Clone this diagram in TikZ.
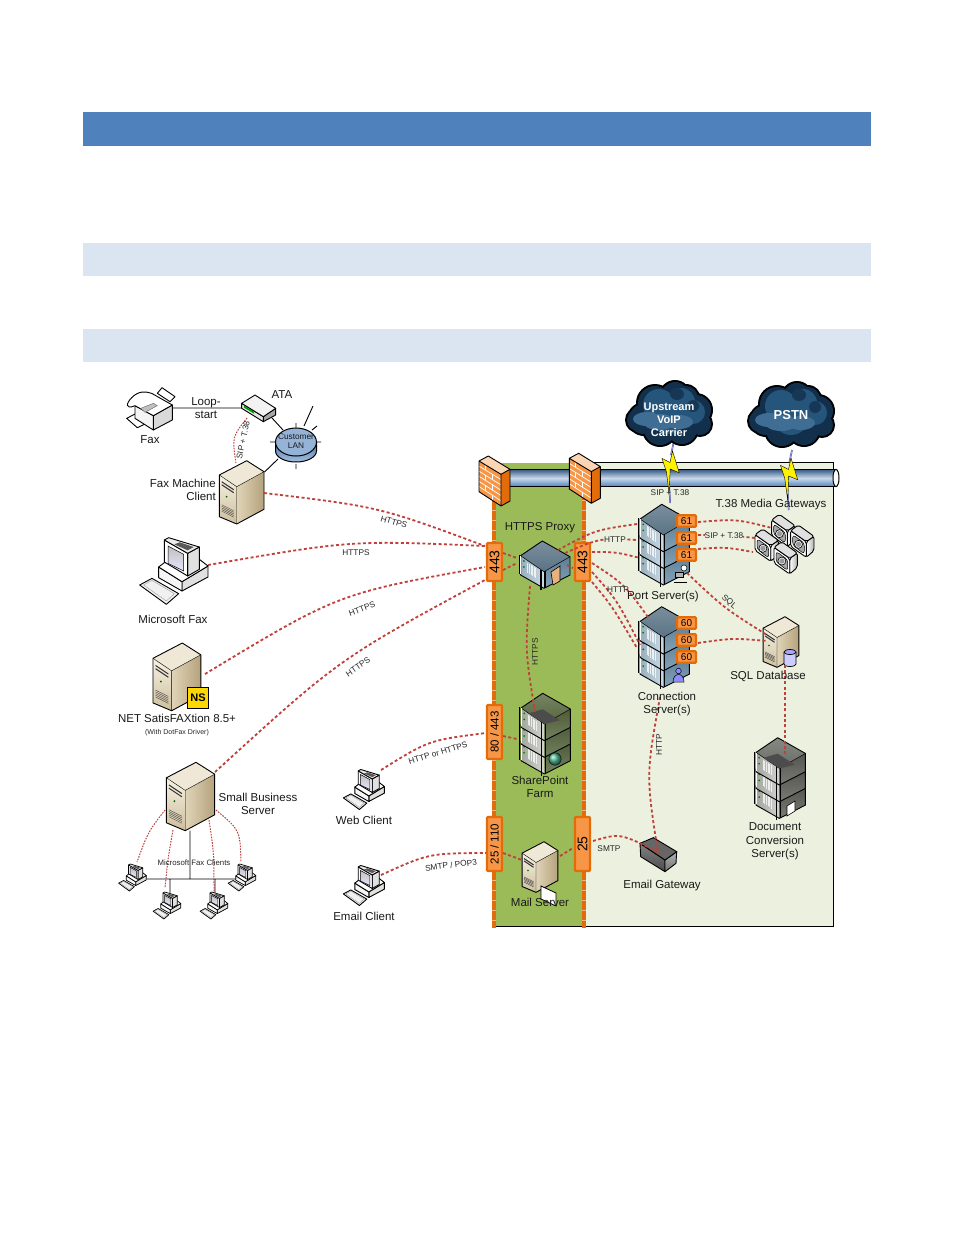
\documentclass[tikz,border=0pt]{standalone}
\usepackage{fontspec}
\setmainfont{Liberation Sans}
\usetikzlibrary{calc}
\definecolor{hdr}{HTML}{4F81BD}
\definecolor{sub}{HTML}{DBE5F1}
\definecolor{dmz}{HTML}{9BBB59}
\definecolor{lan}{HTML}{EBF1DE}
\definecolor{orD}{HTML}{E36C0A}
\definecolor{orL}{HTML}{F79646}
\definecolor{lnk}{HTML}{C0403A}
\definecolor{cloudD}{HTML}{12304C}
\definecolor{cloudM}{HTML}{26557C}
\definecolor{cloudL}{HTML}{4F88B8}
\definecolor{bluTop}{HTML}{5A7385}
\definecolor{bluFront}{HTML}{A9C2D3}
\definecolor{bluSide}{HTML}{6F94AE}
\definecolor{olvTop}{HTML}{56653D}
\definecolor{olvFront}{HTML}{B5B8AE}
\definecolor{olvSide}{HTML}{5C6B42}
\definecolor{gryTop}{HTML}{696B64}
\definecolor{gryFront}{HTML}{B5B7B0}
\definecolor{grySide}{HTML}{62645C}
\definecolor{tanA}{HTML}{F7F2E4}
\definecolor{tanB}{HTML}{CDBE9C}
\definecolor{tanC}{HTML}{E0D4B8}
\definecolor{tanD}{HTML}{B5A27C}
\definecolor{tanE}{HTML}{EFE8D6}
\tikzset{
 lbl/.style={font=\fontsize{11.5}{13.4}\selectfont,inner sep=0pt,align=center,text=black!90,yshift=-1.3pt},
 sm/.style={font=\fontsize{8.3}{10}\selectfont,inner sep=0pt,text=black!85},
 link/.style={draw=lnk,line width=1.8pt,dash pattern=on 3pt off 2.4pt},
 thinlink/.style={draw=lnk,line width=1pt,dash pattern=on 1.6pt off 1.2pt},
 wire/.style={draw=black,line width=.9pt},
 portbox/.style={draw=orD,fill=orL,line width=2.4pt,rounded corners=1pt,inner sep=0pt,minimum height=15pt,font=\fontsize{14}{16}\selectfont,rotate=90},
 tagbox/.style={draw=orD,fill=orL,line width=2.4pt,rounded corners=1pt,inner sep=0pt,minimum width=19pt,minimum height=11.5pt,font=\fontsize{10}{12}\selectfont},
 edge/.style={draw=black,line width=.9pt,line join=round},
 pics/tower/.style={code={
  \shade[top color=tanA,bottom color=tanB] (-27.4,14.3)--(-10,26)--(-10,63.3)--(-27.4,56)--cycle;
  \shade[left color=tanC,right color=tanD] (-10,26)--(17.3,11)--(17.3,48.6)--(-10,63.3)--cycle;
  \fill[tanE] (-27.4,14.3)--(0,0)--(17.3,11)--(-10,26)--cycle;
  \draw[edge] (-27.4,14.3)--(0,0)--(17.3,11)--(17.3,48.6)--(-10,63.3)--(-27.4,56)--cycle;
  \draw[black,line width=.4pt] (-27.4,14.3)--(-10,26)--(17.3,11) (-10,26)--(-10,63.3);
  \draw[black!80,line width=1pt] (-25,21)--(-13,29) (-25,24)--(-13,32);
  \fill[green!40!black] (-20,36) circle (1pt);
  \foreach \k in {0,1.6,3.2,4.8,6.4}{\draw[black!70,line width=.4pt] (-25,{44+\k})--(-13,{50+\k});}
 }},
 pics/pc/.style={code={
  \begin{scope}[shift={(-221,-590)}]
  \draw[edge,fill=black!6] (118,632)--(155,612)--(235,658)--(198,690)--cycle;
  \draw[black!45,line width=.3pt] (130,632)--(155,618)--(222,658)--(198,680)--cycle;
  \draw[edge,fill=black!12] (245,622)--(323,575)--(323,608)--(245,650)--cycle;
  \draw[edge,fill=black!4] (175,578)--(245,622)--(245,650)--(175,610)--cycle;
  \draw[edge,fill=white] (175,578)--(192,565)--(297,555)--(323,575)--(245,622)--cycle;
  \draw[edge,fill=black!12] (262,537)--(297,518)--(297,585)--(262,605)--cycle;
  \draw[edge,fill=white] (192,497)--(262,537)--(262,605)--(192,563)--cycle;
  \draw[edge,fill=black!8] (192,497)--(205,490)--(297,518)--(262,537)--cycle;
  \fill[black!65] (238,504)--(280,518)--(262,528)--(222,510)--cycle;
  \shade[top color=black!25,bottom color=blue!10!white,draw=black,line width=.5pt] (203,515)--(250,540)--(250,590)--(203,567)--cycle;
  \end{scope}
 }},
 pics/unit/.style n args={3}{code={
  \shade[left color=#2!90!black,right color=#2!60!white] (-21.7,14.7)--(1.7,30.7)--(1.7,47.3)--(-21.7,34)--cycle;
  \shade[top color=#3!85!black,bottom color=#3!85!white] (1.7,30.7)--(27.7,15.7)--(27.7,34)--(1.7,47.3)--cycle;
  \shade[top color=#1!80!white,bottom color=#1] (-21.7,14.7)--(0,0)--(27.7,15.7)--(1.7,30.7)--cycle;
  \draw[edge] (-21.7,14.7)--(0,0)--(27.7,15.7)--(27.7,34)--(1.7,47.3)--(-21.7,34)--cycle;
  \draw[black,line width=.5pt] (-21.7,14.7)--(1.7,30.7)--(27.7,15.7);
  \foreach \d in {7,8.6,10.2,11.8,13.4,15}{\draw[white,opacity=.75,line width=.6pt] ({-21.7+\d},{14.7+.68*\d+2.5})--++(0,10);}
  \fill[green!50!black] (-18.5,20) circle (1pt) (-18.5,26) circle (1pt);
  \draw[black,line width=1.3pt] (-23,14)--(-23,33);
  \draw[white,line width=.6pt] (-21.9,15)--(-21.9,33);
  \draw[black,line width=1.3pt] (-1.3,28.5)--(-1.3,49) (2.6,30)--(2.6,47);
 }},
 pics/rack/.style n args={3}{code={
  \foreach \k in {2,1,0}{\pic at (0,{\k*16.7}) {unit={#1}{#2}{#3}};}
 }},
 pics/speaker/.style={code={
  \shade[edge,left color=white,right color=black!30,rounded corners=2pt] (12,2)--(35,-14)--(35,29)--(12,49)--cycle;
  \draw[edge,fill=white,rounded corners=2pt] (-35,-31)--(12,2)--(12,49)--(-35,16)--cycle;
  \draw[edge,fill=black!12,rounded corners=2pt] (-35,-31)--(-12,-48)--(35,-14)--(12,2)--cycle;
  \draw[black,line width=.5pt,fill=black!35,rounded corners=3pt] (-29,-19)--(6,6)--(6,39)--(-29,12)--cycle;
  \draw[black,line width=.6pt,fill=black!5] (-11.5,10) circle (12);
  \fill[black!40] (-11.5,10) circle (8);
 }},
 pics/firewall/.style={code={
  \fill[orL] (0,0)--(22,13.3)--(22,45)--(0,30.7)--cycle;
  \foreach \i in {1,...,5}{\draw[white,line width=.7pt] (0,{\i*5.1})--(22,{13.3+\i*5.3});}
  \foreach \i/\a in {0/6,1/13,2/6,3/13,4/6,5/13}{\draw[white,line width=.7pt] (\a,{\a*.6+\i*5.2})--(\a,{\a*.6+(\i+1)*5.2});}
  \fill[orD] (22,13.3)--(31,8.3)--(31,40)--(22,45)--cycle;
  \fill[orL!40!white] (0,0)--(9.3,-5)--(31,8.3)--(22,13.3)--cycle;
  \draw[edge] (0,0)--(9.3,-5)--(31,8.3)--(31,40)--(22,45)--(0,30.7)--cycle (0,0)--(22,13.3)--(31,8.3) (22,13.3)--(22,45);
 }},
 pics/cloud/.style={code={
  \fill[black] (-25,5) circle (17pt) (-14,-11) circle (19pt) (6,-18) circle (16pt) (17,-16) circle (14pt) (27,-4) circle (17pt) (31,10) circle (13pt) (13,15) circle (17pt) (-9,15) circle (18pt) (-31,6) circle (13pt) (0,0) circle (24pt);
  \fill[cloudD] (-25,5) circle (15pt) (-14,-11) circle (17pt) (6,-18) circle (14pt) (17,-16) circle (12pt) (27,-4) circle (15pt) (31,10) circle (11pt) (13,15) circle (15pt) (-9,15) circle (16pt) (-31,6) circle (11pt) (0,0) circle (22pt);
  \fill[cloudM] (-10,-9) circle (16pt) (12,-12) circle (14pt) (24,-2) circle (12pt) (0,2) circle (18pt);
  \fill[cloudL!80!black] (-22,5) ellipse (14pt and 7pt) (-10,8) ellipse (16pt and 8pt) (10,8) ellipse (14pt and 7pt);
  \fill[cloudD!80!cloudM] (8,-20) ellipse (7pt and 6pt) (24,-8) ellipse (6pt and 6pt);
 }},
 pics/bolt/.style={code={
  \draw[blue!40!black!70,line width=1.6pt] (0,0)--(-2.5,12) (-4.5,40)--(-3.3,60);
  \draw[white!70!blue,line width=.6pt] (0,0)--(-2.5,12) (-4.5,40)--(-3.3,60);
  \fill[yellow,draw=black,line width=.4pt,line join=round] (-11.6,15.3)--(-3.5,19.5)--(-1,8)--(5.7,29.7)--(-3.3,26)--(-4.3,50)--(-7.3,28)--cycle;
 }}
}
\begin{document}
\begin{tikzpicture}[x=1pt,y=-1pt]
\useasboundingbox (0,0) rectangle (954,1235);
\fill[white] (0,0) rectangle (954,1235);
% header bars
\fill[hdr] (83,112) rectangle (871,146);
\fill[sub] (83,243) rectangle (871,276);
\fill[sub] (83,329) rectangle (871,362);
% zones
\draw[black,line width=1pt,fill=lan] (584,462.5) rectangle (833,926.5);
\fill[dmz] (494,463) rectangle (584,926.5);
\draw[black,line width=1pt] (494,926.5)--(584,926.5);
\foreach \x in {494,584}{
 \draw[orD,line width=4pt] (\x,480)--(\x,928);
 \draw[orL!70!white,line width=4pt,dash pattern=on 1.4pt off 8.6pt] (\x,480)--(\x,928);
}
% pipe
\shade[top color=black!30!hdr,bottom color=hdr,middle color=hdr!30!white] (505,469.5) rectangle (836,486.7);
\draw[black,line width=.9pt] (505,469.5)--(836,469.5) (505,486.7)--(836,486.7);
\draw[black,line width=1pt,fill=white] (836,478) ellipse (3pt and 8.6pt);
\pic (fw1) at (479,461) {firewall};
\pic (fw2) at (569.3,458.3) {firewall};
% clouds and bolts
\pic (bolt1) at (673.5,443) {bolt};
\pic (bolt2) at (792,450) {bolt};
\pic (cl1) at (669,414) {cloud};
\pic (cl2) at (791,415) {cloud};
% devices left
\begin{scope}[shift={(100,375)},scale=1/3]
 % fax
 \draw[edge,fill=white] (80,130)--(115,112)--(150,140)--(112,158)--cycle;
 \draw[edge,fill=white] (172,55)--(186,38)--(225,65)--(210,80)--cycle;
 \draw[edge,fill=black!15] (160,122)--(217,90)--(217,135)--(160,165)--cycle;
 \draw[edge,fill=black!4] (105,92)--(160,122)--(160,165)--(105,130)--cycle;
 \draw[edge,fill=white] (105,92) .. controls (75,105) and (78,85) .. (95,68) .. controls (115,48) and (135,48) .. (155,55) -- (217,90) -- (160,122) -- cycle;
 \draw[black!60,fill=black!25,line width=.4pt] (122,100)--(160,85)--(172,92)--(135,112)--cycle;
 % ATA
 \draw[edge,fill=black!35] (490,125)--(527,100)--(527,120)--(490,140)--cycle;
 \draw[edge,fill=black!10] (425,85)--(490,125)--(490,140)--(425,100)--cycle;
 \draw[edge,fill=black!5] (425,85)--(465,60)--(527,100)--(490,125)--cycle;
 \fill[green!60!black] (432,92)--(462,110)--(462,116)--(432,98)--cycle;
\end{scope}
% LAN cylinder
\coordinate (lanC) at (296,436);
\draw[wire] (296,423)--(296,428) (270,442)--(275,442) (316,442)--(321,442) (296,464)--(296,469) (304,426)--(313,406) (312,430)--(317,426);
\shade[top color=hdr!90!black,bottom color=hdr!50!white,draw=black,line width=1pt] (275.5,442)--(275.5,451) arc[start angle=180,end angle=360,x radius=20.5pt,y radius=11pt] -- (316.5,442);
\draw[black,line width=1pt,fill=hdr!60!white] (296,442) ellipse (20.5pt and 14pt);
\pic (fmcT) at (246.7,460.7) {tower};
\pic[scale=1.07] (netT) at (182.3,643) {tower};
\pic[scale=1.08] (sbsT) at (196,762.3) {tower};
\pic[scale=.8] (sqlT) at (785,616.7) {tower};
\pic[scale=.8] (mailT) at (544,841.7) {tower};
\pic[scale=1/3] (msPC) at (174,571) {pc};
\pic[scale=.2] (webPC) at (364,789.5) {pc};
\pic[scale=.2] (emPC) at (364,885.5) {pc};
\begin{scope}[edge/.append style={line width=.7pt}]
\pic[scale=.135] (c1) at (132.5,877.5) {pc};
\pic[scale=.135] (c2) at (167,905.5) {pc};
\pic[scale=.135] (c3) at (214,905.5) {pc};
\pic[scale=.135] (c4) at (242,877.5) {pc};
\end{scope}
% NS badge
\node[draw=black,line width=1pt,fill=yellow!75!orange,minimum size=21pt,inner sep=0pt,font=\bfseries\fontsize{11}{12}\selectfont] (ns) at (198,698) {NS};
% wires
\coordinate (faxR) at (172,408); \coordinate (ataL) at (241,408);
\coordinate (ataB) at (272,418); \coordinate (lanTL) at (283,430);
\coordinate (lanBL) at (278,459); \coordinate (fmcR) at (264.5,472);
\coordinate (sbsB) at (190,830.5); \coordinate (trunk) at (190,879);
\coordinate (busL) at (147,879); \coordinate (busR) at (236,879);
\coordinate (dropA) at (170,879); \coordinate (dropB) at (170,893);
\coordinate (dropC) at (215,879); \coordinate (dropD) at (215,893);
\draw[wire] (faxR)--(ataL) (ataB)--(lanTL) (lanBL)--(fmcR) (sbsB)--(trunk) (busL)--(busR) (dropA)--(dropB) (dropC)--(dropD);
% racks
\pic (port) at (661.7,504.3) {rack={bluTop}{bluFront}{bluSide}};
\pic (conn) at (661.7,606.7) {rack={bluTop}{bluFront}{bluSide}};
\pic (share) at (542.7,693.3) {rack={olvTop}{olvFront}{olvSide}};
\fill[black!70] (528.7,713.3)--(542.7,709.3)--(559.7,720.3)--(544.7,724)--cycle;
\pic (docs) at (777.7,737.7) {rack={gryTop}{gryFront}{grySide}};
\fill[black!70] (763.7,757.7)--(777.7,753.7)--(794.7,764.7)--(779.7,768.4)--cycle;
\pic (proxy) at (542.3,541) {unit={bluTop}{bluFront}{bluSide}};
\draw[black,line width=.6pt,fill=orange!35!brown!60!white] (551,572)--(560,566)--(560,581)--(553,585)--cycle;
\draw[black,line width=.6pt,fill=white] (787,806)--(795,801)--(795,811)--(787,816)--cycle;
% gateways
\pic[scale=1/3] (g1) at (783.3,530.3) {speaker};
\pic[scale=1/3] (g2) at (802.3,541) {speaker};
\pic[scale=1/3] (g3) at (766.7,545) {speaker};
\pic[scale=1/3] (g4) at (785.7,557.7) {speaker};
% email gateway
\begin{scope}[shift={(470,670)},scale=1/3]
 \shade[edge,top color=black!50,bottom color=black!70] (510,520)--(585,570)--(585,605)--(512,560)--cycle;
 \shade[edge,top color=black!30,bottom color=black!55] (585,570)--(620,545)--(618,580)--(585,605)--cycle;
 \fill[black!60,draw=black,line width=.9pt] (510,520)--(550,503)--(620,545)--(585,570)--cycle;
\end{scope}
% badges
\shade[ball color=blue!40!green!70!white,draw=black,line width=.4pt] (555,759) circle (6.2pt);
\draw[black,line width=.5pt,fill=white] (684,568) circle (3pt);
\draw[black,line width=.5pt,fill=black!30] (675,572) rectangle (683,577);
\draw[black,line width=.8pt] (674,582)--(687,582);
\draw[black,line width=.5pt,fill=blue!45!white] (673,682) .. controls (673,672) and (684,672) .. (684,682) -- cycle;
\draw[black,line width=.5pt,fill=blue!45!white] (678.5,671) circle (2.8pt);
\draw[black,line width=.7pt,fill=blue!20!white] (784,652)--(784,664) arc[start angle=180,end angle=360,x radius=6pt,y radius=2.5pt]--(796,652);
\draw[black,line width=.7pt,fill=blue!35!white] (790,652) ellipse (6pt and 2.5pt);
\draw[black,line width=.8pt,fill=white] (541,886)--(556,893)--(556,906)--(541,899)--cycle;
% port boxes
\node[portbox,minimum width=38pt] (pL) at (494.5,562) {443};
\node[portbox,minimum width=38pt] (pR) at (582.5,562) {443};
\node[portbox,minimum width=54pt,font=\fontsize{11.5}{14}\selectfont] (p80) at (494.5,732) {80 / 443};
\node[portbox,minimum width=54pt,font=\fontsize{11.5}{14}\selectfont] (p25L) at (494.5,844) {25 / 110};
\node[portbox,minimum width=54pt] (p25R) at (582.5,844) {25};
\node[tagbox] (t1) at (686.5,521) {61};
\node[tagbox] (t2) at (686.5,538) {61};
\node[tagbox] (t3) at (686.5,555) {61};
\node[tagbox] (u1) at (686.5,623) {60};
\node[tagbox] (u2) at (686.5,640) {60};
\node[tagbox] (u3) at (686.5,657) {60};
% connector ends
\coordinate (a1) at (264,493); \coordinate (b1) at (485,546);
\coordinate (a2) at (208,565); \coordinate (b2) at (485,546);
\coordinate (a3) at (205,674); \coordinate (b3) at (485,567);
\coordinate (a4) at (215,772); \coordinate (b4) at (485,580);
\coordinate (a5) at (381,770); \coordinate (b5) at (486,733);
\coordinate (a6) at (381,875); \coordinate (b6) at (486,853);
\coordinate (m1) at (503,853); \coordinate (m2) at (522,860);
\coordinate (m3) at (560,856); \coordinate (m4) at (573,848);
\coordinate (g1a) at (593,841); \coordinate (g1b) at (660,853);
\coordinate (s1) at (503,736); \coordinate (s2) at (517,739);
\coordinate (h1) at (530,586); \coordinate (h2) at (535,712);
\coordinate (pl1) at (503,553); \coordinate (pl2) at (517,558);
\coordinate (pl3) at (503,570); \coordinate (pl4) at (517,563);
\coordinate (x1) at (558,550); \coordinate (x1b) at (637,524);
\coordinate (x2) at (565,553); \coordinate (x2b) at (637,540);
\coordinate (x3) at (592,552); \coordinate (x3b) at (640,558);
\coordinate (x4) at (567,565); \coordinate (x4b) at (573,568);
\coordinate (y1) at (592,563); \coordinate (y1b) at (648,617);
\coordinate (y2) at (592,572); \coordinate (y2b) at (640,645);
\coordinate (y3) at (592,582); \coordinate (y3b) at (637,648);
\coordinate (z1) at (698,522); \coordinate (z1b) at (772,528);
\coordinate (z2) at (698,535); \coordinate (z2b) at (755,538);
\coordinate (z3) at (698,549); \coordinate (z3b) at (753,552);
\coordinate (q1) at (687,573); \coordinate (q1b) at (767,635);
\coordinate (q2) at (698,643); \coordinate (q2b) at (767,641);
\coordinate (q3) at (785,665); \coordinate (q3b) at (785,755);
\coordinate (r1) at (660,697); \coordinate (r1b) at (658,853);
\coordinate (t38a) at (247,418); \coordinate (t38b) at (236,463);
\coordinate (v1a) at (165,810); \coordinate (v1b) at (137,862);
\coordinate (v2a) at (173,830); \coordinate (v2b) at (165,888);
\coordinate (v3a) at (209,820); \coordinate (v3b) at (214,892);
\coordinate (v4a) at (216,810); \coordinate (v4b) at (241,862);
% connectors
\draw[link] (a1) .. controls (379.2,506.8) .. (b1);
\draw[link] (a2) .. controls (351.2,540.2) .. (b2);
\draw[link] (a3) .. controls (338.3,593.5) .. (b3);
\draw[link] (a4) .. controls (339.3,658.7) .. (b4);
\draw[link] (a5) .. controls (428.8,740.2) .. (b5);
\draw[link] (a6) .. controls (428.8,853.3) .. (b6);
\draw[link] (m1)--(m2); \draw[link] (m3)--(m4);
\draw[link] (g1a) .. controls (620,833) .. (g1b);
\draw[link] (s1)--(s2);
\draw[link] (h1) .. controls (525,650) .. (h2);
\draw[link] (pl1)--(pl2); \draw[link] (pl3)--(pl4);
\draw[link] (x1) .. controls (595,530) .. (x1b);
\draw[link] (x2) .. controls (600,538) .. (x2b);
\draw[link] (x3) .. controls (616,552) .. (x3b);
\draw[link] (x4)--(x4b);
\draw[link] (y1) .. controls (624,584) .. (y1b);
\draw[link] (y2) .. controls (617,600) .. (y2b);
\draw[link] (y3) .. controls (612,606) .. (y3b);
\draw[link] (z1) .. controls (736,519) .. (z1b);
\draw[link] (z2) .. controls (727,535) .. (z2b);
\draw[link] (z3) .. controls (725,547) .. (z3b);
\draw[link] (q1) .. controls (724,608) .. (q1b);
\draw[link] (q2) .. controls (733,638) .. (q2b);
\draw[link] (q3)--(q3b);
\draw[link] (r1) .. controls (646,775) .. (r1b);
\draw[thinlink] (t38a) .. controls (232,437) .. (t38b);
\draw[thinlink] (v1a) .. controls (148,832) .. (v1b);
\draw[thinlink] (v2a) .. controls (168,858) .. (v2b);
\draw[thinlink] (v3a) .. controls (214,853) .. (v3b);
\draw[thinlink] (v4a) .. controls (240,830) .. (v4b);
% labels
\node[lbl] (tFax) at (150,438) {Fax};
\node[lbl] (tLoop) at (206,407) {Loop-\\start};
\node[lbl] (tATA) at (282,393) {ATA};
\node[font=\fontsize{8.3}{9}\selectfont,inner sep=0pt,align=center,text=black!90] (tLAN) at (296,441.5) {Customer\\LAN};
\node[lbl,align=right,anchor=east] (tFMC) at (216,488.5) {Fax Machine\\Client};
\node[lbl] (tMS) at (173,618) {Microsoft Fax};
\node[lbl] (tNET) at (177,717) {NET SatisFAXtion 8.5+};
\node[font=\fontsize{7}{8}\selectfont,inner sep=0pt,text=black!85] (tDot) at (177,733) {(With DotFax Driver)};
\node[lbl] (tSBS) at (258,802.5) {Small Business\\Server};
\node[lbl] (tWeb) at (364,819) {Web Client};
\node[lbl] (tEm) at (364,915) {Email Client};
\node[lbl] (tProxy) at (540,526) {HTTPS Proxy};
\node[lbl] (tPort) at (663,595) {Port Server(s)};
\node[lbl] (tConn) at (667,702.5) {Connection\\Server(s)};
\node[lbl] (tSQL) at (768,675) {SQL Database};
\node[lbl] (tGW) at (771,503) {T.38 Media Gateways};
\node[lbl] (tShare) at (540,785.5) {SharePoint\\Farm};
\node[lbl] (tMail) at (540,901) {Mail Server};
\node[lbl] (tDoc) at (775,840) {Document\\Conversion\\Server(s)};
\node[lbl] (tEG) at (662,884) {Email Gateway};
\node[font=\bfseries\fontsize{11}{13.2}\selectfont,text=white,align=center,inner sep=0pt] (tUp) at (669,420) {Upstream\\VoIP\\Carrier};
\node[font=\bfseries\fontsize{13}{15}\selectfont,text=white,inner sep=0pt] (tPS) at (791,415) {PSTN};
\node[sm,rotate=-16] (l1) at (394,522) {HTTPS};
\node[sm] (l2) at (356,553) {HTTPS};
\node[sm,rotate=20] (l3) at (362,609) {HTTPS};
\node[sm,rotate=35] (l4) at (358,667) {HTTPS};
\node[sm,rotate=17] (l5) at (438,753) {HTTP or HTTPS};
\node[sm,rotate=7] (l6) at (451,865) {SMTP / POP3};
\node[sm,rotate=90] (l7) at (535,652) {HTTPS};
\node[sm,fill=lan] (l8) at (615,540) {HTTP};
\node[sm] (l9) at (618,590) {HTTP};
\node[sm] (l10) at (670,493) {SIP + T.38};
\node[sm,fill=lan] (l11) at (724,536) {SIP + T.38};
\node[sm,rotate=-40] (l12) at (729,602) {SQL};
\node[sm,rotate=90] (l13) at (659,745) {HTTP};
\node[sm] (l14) at (609,849) {SMTP};
\node[sm,rotate=78] (l15) at (243,440) {SIP + T.38};
\node[font=\fontsize{7.8}{9}\selectfont,inner sep=0pt,text=black!85] (l16) at (194,863) {Microsoft Fax Clients};
\end{tikzpicture}
\end{document}
